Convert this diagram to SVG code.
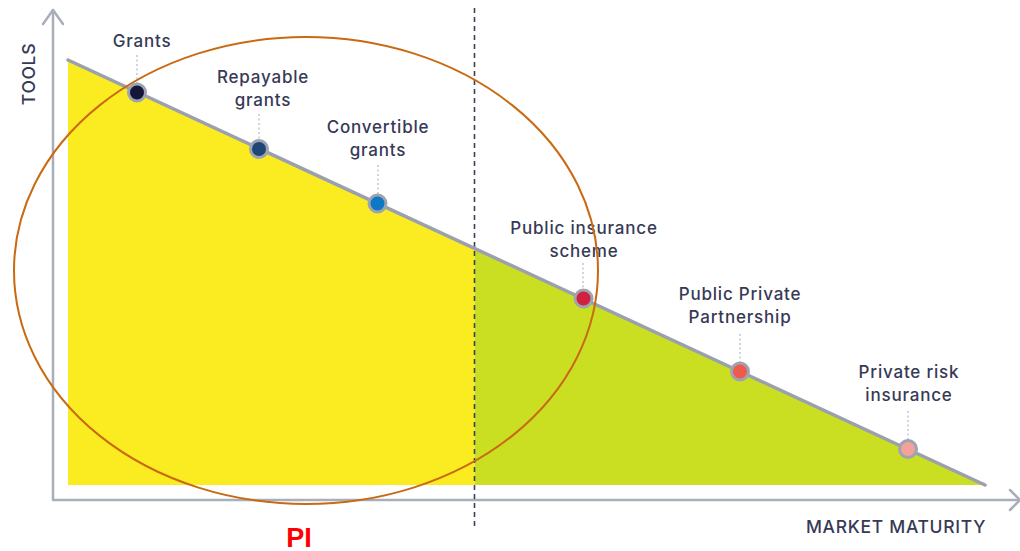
<svg xmlns="http://www.w3.org/2000/svg" width="1020" height="551" viewBox="0 0 1020 551">
  <style>
    .axis { fill: none; stroke: #a9aebb; stroke-width: 2.5; stroke-linecap: round; stroke-linejoin: round; }
    .axis-label { font-family: Inter, "Noto Sans", sans-serif; font-size: 17.5px; font-weight: 500; fill: #363a56; letter-spacing: 0.7px; }
    .label { font-family: Inter, "Noto Sans", sans-serif; font-size: 17px; font-weight: 500; fill: #363a56; letter-spacing: 0.8px; text-anchor: middle; }
    .leader { stroke: #b3b7c3; stroke-width: 1.2; stroke-dasharray: 2 2.5; fill: none; }
    .dot { stroke: #9ea3b0; stroke-width: 3; }
    .slope { stroke: #9aa0ae; stroke-width: 3.5; fill: none; stroke-linecap: round; }
  </style>

  <rect width="1020" height="551" fill="#ffffff"/>

  <!-- axes -->
  <g id="axes">
    <polyline class="axis" points="53,10 53,500 1019,500"/>
    <polyline class="axis" points="43,24 53,10 63,24"/>
    <polyline class="axis" points="1010,490 1020,500 1010,510"/>
    <text class="axis-label" transform="translate(35,74) rotate(-90)" text-anchor="middle">TOOLS</text>
    <text class="axis-label" x="896" y="533" text-anchor="middle">MARKET MATURITY</text>
  </g>

  <!-- areas under the slope -->
  <g id="areas">
    <polygon points="68,60 474.5,248.4 474.5,485 68,485" fill="#fbec21"/>
    <polygon points="474.5,248.4 985,485 474.5,485" fill="#cbdf22"/>
  </g>

  <!-- market maturity divider -->
  <line id="divider" x1="474.5" y1="8" x2="474.5" y2="527" stroke="#3c4058" stroke-width="1.6" stroke-dasharray="5 4"/>

  <!-- tools slope -->
  <line id="slope" class="slope" x1="68" y1="60" x2="985" y2="485"/>

  <!-- leader lines from labels to points -->
  <g id="connectors">
    <line class="leader" x1="137" y1="55" x2="137" y2="84"/>
    <line class="leader" x1="259" y1="114" x2="259" y2="140"/>
    <line class="leader" x1="378" y1="165" x2="378" y2="194"/>
    <line class="leader" x1="583" y1="263" x2="583" y2="290"/>
    <line class="leader" x1="740" y1="334" x2="740" y2="362"/>
    <line class="leader" x1="908" y1="411" x2="908" y2="440"/>
  </g>

  <g id="grants">
    <circle class="dot" cx="137" cy="92.5" r="8.5" fill="#14163a"/>
    <text class="label" x="142" y="47">Grants</text>
  </g>
  <g id="repayable-grants">
    <circle class="dot" cx="259" cy="149" r="8.5" fill="#1f4677"/>
    <text class="label" x="263" y="83">Repayable</text>
    <text class="label" x="263" y="106">grants</text>
  </g>
  <g id="convertible-grants">
    <circle class="dot" cx="377.5" cy="203.5" r="8.5" fill="#0d78c6"/>
    <text class="label" x="378" y="133">Convertible</text>
    <text class="label" x="378" y="156">grants</text>
  </g>
  <g id="public-insurance-scheme">
    <circle class="dot" cx="583.5" cy="298.5" r="8.5" fill="#d1213f"/>
    <text class="label" x="584" y="234">Public insurance</text>
    <text class="label" x="584" y="257">scheme</text>
  </g>
  <g id="public-private-partnership">
    <circle class="dot" cx="740" cy="371.5" r="8.5" fill="#ef5a4f"/>
    <text class="label" x="740" y="300">Public Private</text>
    <text class="label" x="740" y="323">Partnership</text>
  </g>
  <g id="private-risk-insurance">
    <circle class="dot" cx="908" cy="449" r="8.5" fill="#f3a19b"/>
    <text class="label" x="909" y="378">Private risk</text>
    <text class="label" x="909" y="401">insurance</text>
  </g>

  <!-- PI scope -->
  <g id="pi">
    <ellipse cx="306" cy="270.5" rx="292" ry="233.5" fill="none" stroke="#c96a12" stroke-width="2"/>
    <text x="299" y="547" text-anchor="middle" font-family="'Liberation Sans', Arial, sans-serif" font-weight="bold" font-size="27" fill="#ff0000">PI</text>
  </g>
</svg>
